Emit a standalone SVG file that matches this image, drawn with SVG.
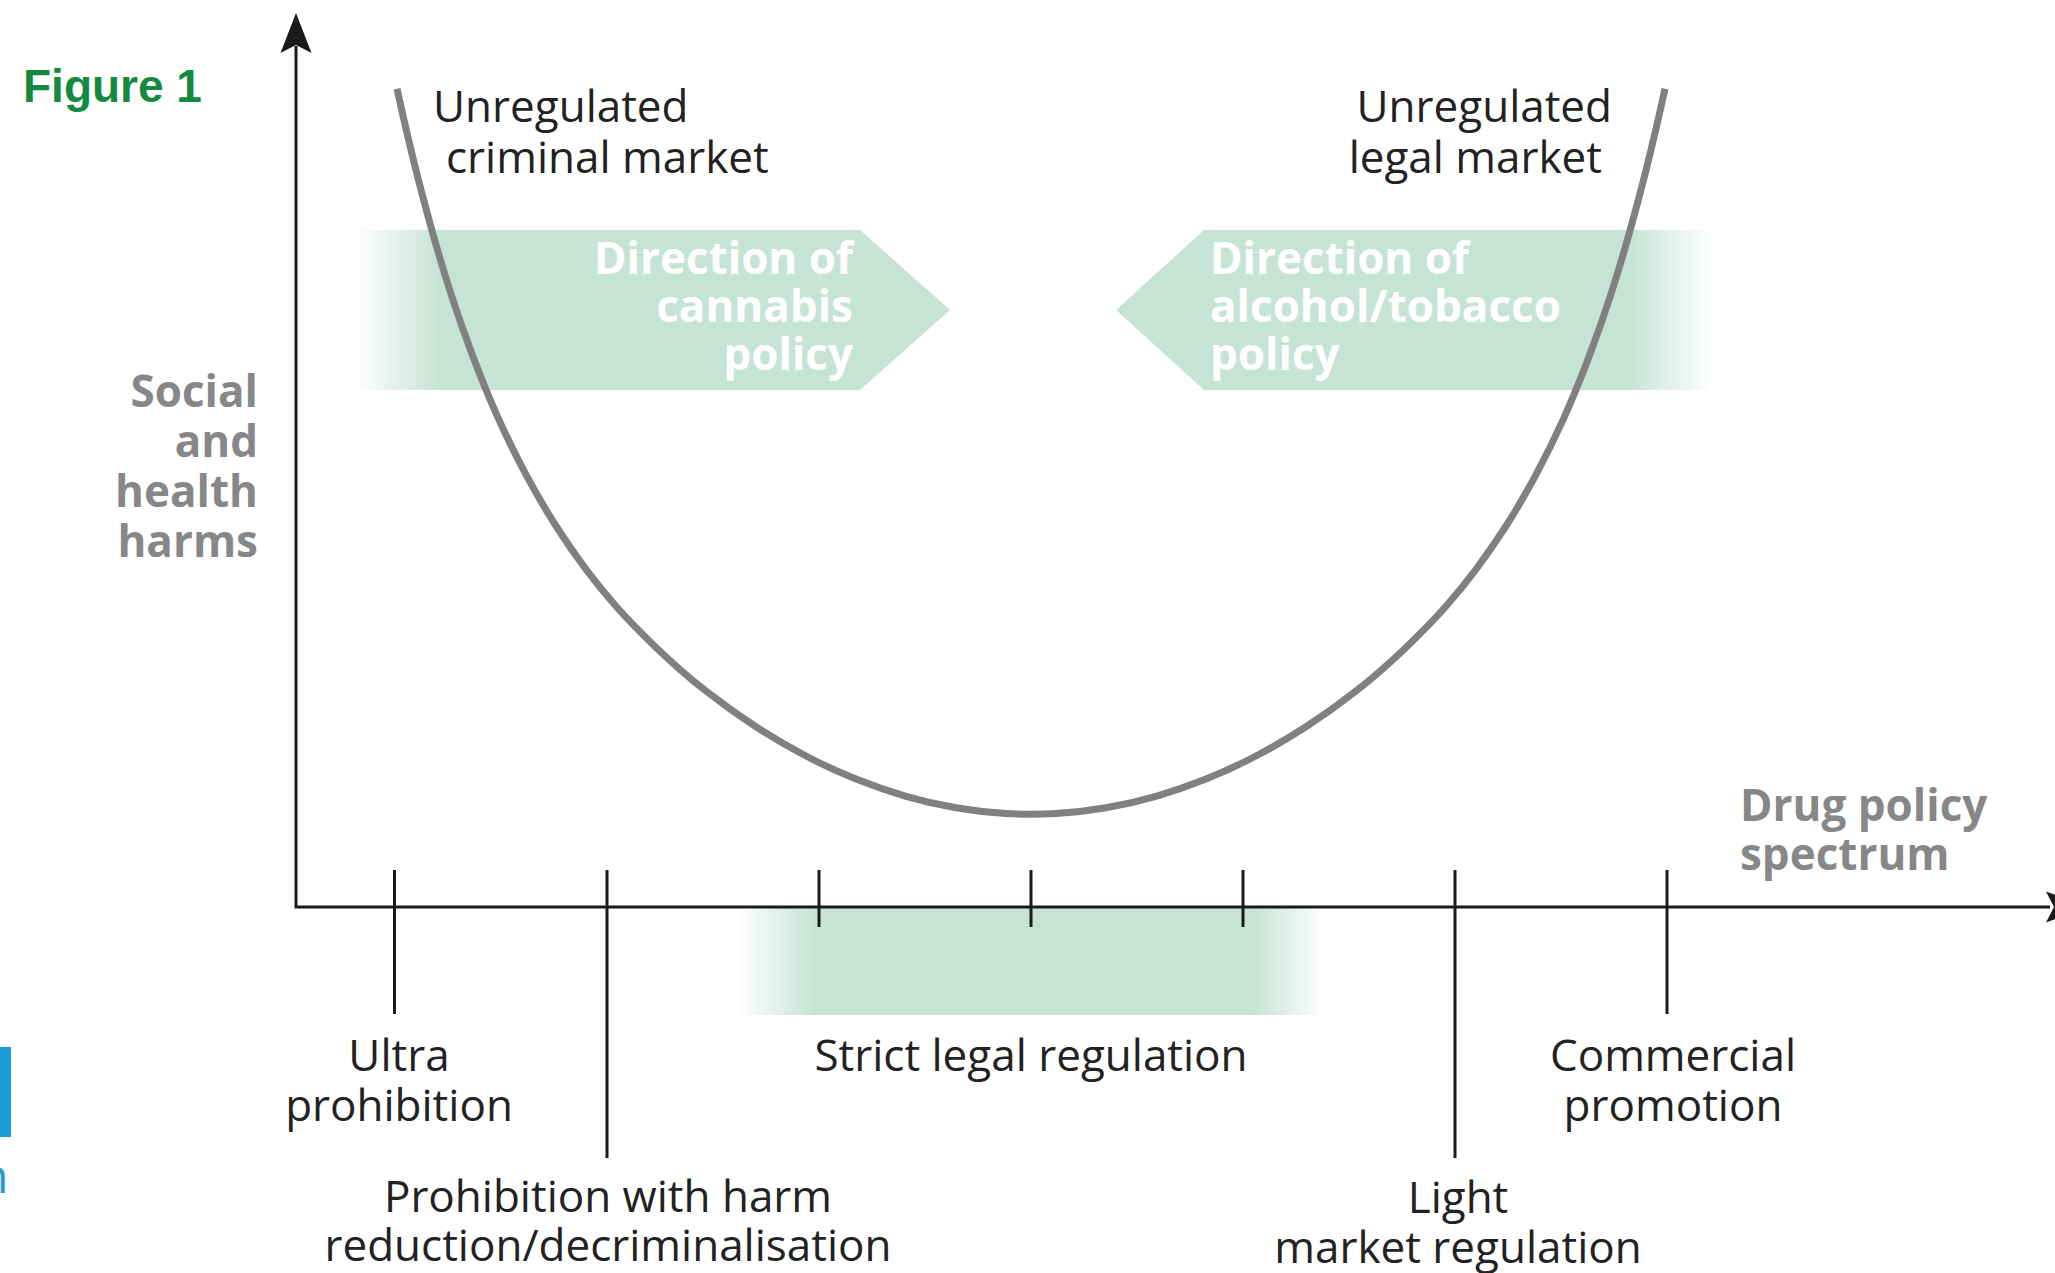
<svg xmlns="http://www.w3.org/2000/svg" width="2055" height="1273" viewBox="0 0 2055 1273">
<style>
  .lbl { font-family: "Open Sans", "Liberation Sans", sans-serif; font-size: 44px; fill: #222; }
  .axl { font-family: "Open Sans", "Liberation Sans", sans-serif; font-size: 44px; font-weight: bold; fill: #878787; }
  .wht { font-family: "Open Sans", "Liberation Sans", sans-serif; font-size: 44px; font-weight: bold; fill: #ffffff; }
  .mid { text-anchor: middle; }
  .end { text-anchor: end; }
  .axis { stroke: #1a1a1a; stroke-width: 3; fill: none; }
  .tick { stroke: #1a1a1a; stroke-width: 3; }
</style>
<defs>
  <linearGradient id="gCannabis" gradientUnits="userSpaceOnUse" x1="355" y1="0" x2="440" y2="0">
    <stop offset="0" stop-color="#c6e4d6" stop-opacity="0"/>
    <stop offset="1" stop-color="#c6e4d6" stop-opacity="1"/>
  </linearGradient>
  <linearGradient id="gAlcohol" gradientUnits="userSpaceOnUse" x1="1630" y1="0" x2="1712" y2="0">
    <stop offset="0" stop-color="#c6e4d6" stop-opacity="1"/>
    <stop offset="1" stop-color="#c6e4d6" stop-opacity="0"/>
  </linearGradient>
  <linearGradient id="gStrict" gradientUnits="userSpaceOnUse" x1="738" y1="0" x2="1324" y2="0">
    <stop offset="0" stop-color="#c6e4d6" stop-opacity="0"/>
    <stop offset="0.13" stop-color="#c6e4d6" stop-opacity="1"/>
    <stop offset="0.88" stop-color="#c6e4d6" stop-opacity="1"/>
    <stop offset="1" stop-color="#c6e4d6" stop-opacity="0"/>
  </linearGradient>
</defs>
<rect width="2055" height="1273" fill="#ffffff"/>

<g id="figure-title">
  <text x="23" y="102" font-family="Liberation Sans, Arial, sans-serif" font-size="46" font-weight="bold" fill="#138a3f">Figure 1</text>
</g>

<g id="edge-marks">
  <rect x="0" y="1047" width="11" height="90" fill="#1e9bd7"/>
  <text x="-21" y="1193" font-family="Open Sans, sans-serif" font-size="48" fill="#1e9bd7">n</text>
</g>

<g id="cannabis-direction">
  <polygon points="355,230 860,230 950,310 860,390 355,390" fill="url(#gCannabis)"/>
  <text class="wht end" x="853" y="274">Direction of</text>
  <text class="wht end" x="853" y="322">cannabis</text>
  <text class="wht end" x="853" y="370">policy</text>
</g>

<g id="alcohol-direction">
  <polygon points="1116,310 1204,230 1712,230 1712,390 1204,390" fill="url(#gAlcohol)"/>
  <text class="wht" x="1210" y="274">Direction of</text>
  <text class="wht" x="1210" y="322">alcohol/tobacco</text>
  <text class="wht" x="1210" y="370">policy</text>
</g>

<g id="strict-band">
  <rect x="738" y="907" width="586" height="108" fill="url(#gStrict)"/>
</g>

<g id="connectors">
  <path id="harm-curve" fill="none" stroke="#808080" stroke-width="7" stroke-linejoin="round" d="M397,88.7 L401.5,109 Q406,129.3 413.5,160.2 Q421,191 431,227 Q441,263 451,294 Q461,325 473.5,358.1 Q486,391.1 498.5,418.9 Q511,446.6 526,474.6 Q541,502.6 556,526 Q571,549.4 586,569.3 Q601,589.1 616,606.3 Q631,623.4 656,647.4 Q681,671.4 706,691.1 Q731,710.7 756,726.8 Q781,742.9 806,756 Q831,769 856,779.1 Q881,789.1 906,796.3 Q931,803.5 956,807.8 Q981,812.1 1006,813.6 Q1031,815 1056,813.6 Q1081,812.1 1106,807.8 Q1131,803.5 1156,796.3 Q1181,789.1 1206,779.1 Q1231,769 1256,756 Q1281,742.9 1306,726.8 Q1331,710.7 1356,691.1 Q1381,671.4 1406,647.4 Q1431,623.4 1446,606.3 Q1461,589.1 1476,569.3 Q1491,549.4 1506,526 Q1521,502.6 1536,474.6 Q1551,446.6 1563.5,418.9 Q1576,391.1 1588.5,358.1 Q1601,325 1611,294 Q1621,263 1631,227 Q1641,191 1648.5,160.2 Q1656,129.3 1660.5,109 L1665,88.7"/>
  <g id="axes">
    <polyline class="axis" points="296,46 296,907 2050,907"/>
    <polygon points="296,13 311.5,53 296,45 280.5,53" fill="#1a1a1a"/>
    <polygon points="2088,907 2046,922.5 2054,907 2046,891.5" fill="#1a1a1a"/>
  </g>
  <g id="ticks">
    <line class="tick" x1="394.5" y1="870" x2="394.5" y2="1014"/>
    <line class="tick" x1="607" y1="870" x2="607" y2="1158"/>
    <line class="tick" x1="819" y1="870" x2="819" y2="927"/>
    <line class="tick" x1="1031" y1="870" x2="1031" y2="927"/>
    <line class="tick" x1="1243" y1="870" x2="1243" y2="927"/>
    <line class="tick" x1="1455" y1="870" x2="1455" y2="1158"/>
    <line class="tick" x1="1667" y1="870" x2="1667" y2="1014"/>
  </g>
</g>

<g id="y-axis-label">
  <text class="axl end" x="258" y="407">Social</text>
  <text class="axl end" x="258" y="457">and</text>
  <text class="axl end" x="258" y="507">health</text>
  <text class="axl end" x="258" y="557">harms</text>
</g>

<g id="x-axis-label">
  <text class="axl" x="1740" y="821">Drug policy</text>
  <text class="axl" x="1740" y="870">spectrum</text>
</g>

<g id="criminal-market">
  <text class="lbl" x="433" y="122">Unregulated</text>
  <text class="lbl" x="446" y="173">criminal market</text>
</g>

<g id="legal-market">
  <text class="lbl end" x="1612" y="122">Unregulated</text>
  <text class="lbl end" x="1602" y="173">legal market</text>
</g>

<g id="ultra-prohibition">
  <text class="lbl mid" x="399" y="1071">Ultra</text>
  <text class="lbl mid" x="399" y="1121">prohibition</text>
</g>

<g id="prohibition-harm-reduction">
  <text class="lbl mid" x="608" y="1212">Prohibition with harm</text>
  <text class="lbl mid" x="608" y="1261">reduction/decriminalisation</text>
</g>

<g id="strict-legal-regulation">
  <text class="lbl mid" x="1031" y="1071">Strict legal regulation</text>
</g>

<g id="light-market-regulation">
  <text class="lbl mid" x="1458" y="1213">Light</text>
  <text class="lbl mid" x="1458" y="1263">market regulation</text>
</g>

<g id="commercial-promotion">
  <text class="lbl mid" x="1673" y="1071">Commercial</text>
  <text class="lbl mid" x="1673" y="1121">promotion</text>
</g>
</svg>
